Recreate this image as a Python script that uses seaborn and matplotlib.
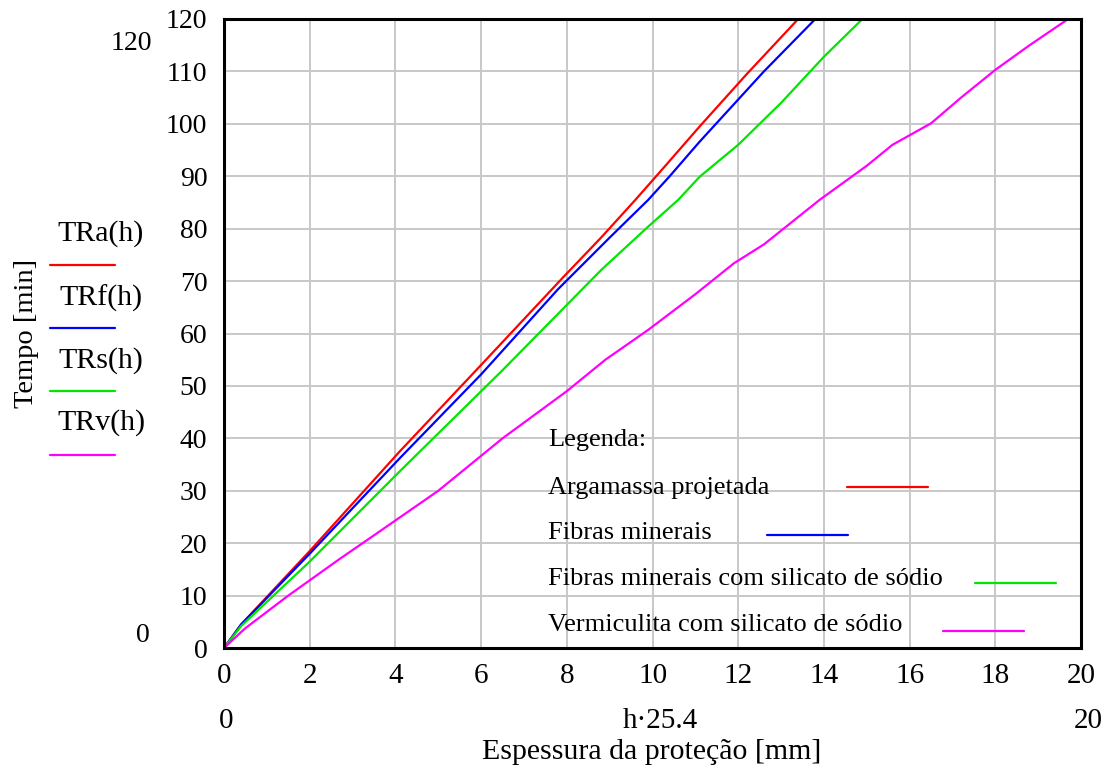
import matplotlib
matplotlib.use("Agg")
import matplotlib.pyplot as plt
import pandas as pd
import seaborn as sns

# espessura h [pol] e tempo de resistencia [min]
h_a = [0.0, 0.4, 2.0, 4.1, 6.0, 7.9, 8.8, 9.6, 10.3, 11.1, 12.2, 13.4]
t_a = [0.0, 4.5, 18.5, 37.5, 54.0, 70.6, 78.3, 85.5, 92.0, 99.5, 109.5, 120.0]

h_f = [0.0, 0.4, 2.0, 4.1, 6.0, 7.8, 9.0, 9.9, 10.4, 11.1, 12.6, 13.8]
t_f = [0.0, 4.5, 18.0, 36.2, 52.2, 68.5, 78.3, 85.5, 90.0, 96.6, 110.0, 120.0]

h_s = [0.0, 0.4, 2.0, 4.1, 6.5, 8.8, 9.9, 10.6, 11.1, 12.0, 13.0, 14.0, 14.9]
t_s = [0.0, 4.2, 16.5, 33.7, 53.0, 72.1, 80.4, 85.5, 89.9, 96.0, 104.0, 112.8, 120.0]

h_v = [0.0, 0.5, 1.5, 2.7, 3.5, 5.0, 6.5, 7.4, 8.0, 8.9, 9.9, 11.0, 11.9, 12.6, 13.9, 15.0,
       15.6, 16.5, 17.2, 18.0, 18.8, 19.7]
t_v = [0.0, 3.8, 10.0, 17.0, 21.5, 30.0, 40.0, 45.4, 49.0, 55.0, 60.7, 67.5, 73.4, 77.0, 85.5, 92.0,
       96.0, 100.1, 105.0, 110.3, 115.0, 120.0]

series = ["TRa(h)", "TRf(h)", "TRs(h)", "TRv(h)"]
descricoes = ["Argamassa projetada", "Fibras minerais",
              "Fibras minerais com silicato de sódio", "Vermiculita com silicato de sódio"]
cores = ["#ff0000", "#0000ff", "#00e600", "#ff00ff"]

frames = []
for nome, hh, tt in zip(series, [h_a, h_f, h_s, h_v], [t_a, t_f, t_s, t_v]):
    frames.append(pd.DataFrame({"h": hh, "t": tt, "serie": nome}))
df = pd.concat(frames, ignore_index=True)

sns.set_theme(style="whitegrid")
plt.rcParams.update({
    "font.family": ["Liberation Serif", "DejaVu Serif"],
    "font.size": 19,
    "text.color": "black",
})

fig = plt.figure(figsize=(11.04, 7.69), dpi=100)
ax = fig.add_axes([0.2029, 0.1573, 0.7763, 0.818])

for nome, cor in zip(series, cores):
    sub = df[df["serie"] == nome]
    sns.lineplot(data=sub, x="h", y="t", color=cor, linewidth=1.6, ax=ax,
                 estimator=None, sort=False, legend=False)

ax.set_xlim(0, 20)
ax.set_ylim(0, 120)
ax.set_xticks(range(0, 21, 2))
ax.set_yticks(range(0, 121, 10))
ax.grid(True, color="#c8c8c8", linewidth=1.4)
for s in ax.spines.values():
    s.set_color("black")
    s.set_linewidth(2.2)
ax.tick_params(axis="both", length=0, colors="black")
ax.tick_params(axis="y", labelsize=20, pad=12)
ax.tick_params(axis="x", labelsize=21, pad=11)
ax.set_xlabel("")
ax.set_ylabel("")

# rotulos estilo Mathcad
fig.text(131 / 1104, 1 - 44 / 769, "120", ha="center", va="center", fontsize=20)
fig.text(143 / 1104, 1 - 636 / 769, "0", ha="center", va="center", fontsize=20)
fig.text(226 / 1104, 1 - 721 / 769, "0", ha="center", va="center", fontsize=21)
fig.text(660 / 1104, 1 - 721 / 769, "h·25.4", ha="center", va="center", fontsize=21)
fig.text(1088 / 1104, 1 - 721 / 769, "20", ha="center", va="center", fontsize=21)
fig.text(652 / 1104, 1 - 752 / 769, "Espessura da proteção [mm]", ha="center", va="center", fontsize=21.5)
fig.text(27 / 1104, 1 - 333 / 769, "Tempo [min]", ha="center", va="center", rotation=90, fontsize=20.5)

ys_lbl = [234, 298, 361, 423]
ys_lin = [265, 328, 391, 455]
for nome, cor, yl, yn in zip(series, cores, ys_lbl, ys_lin):
    fig.text(101 / 1104, 1 - yl / 769, nome, ha="center", va="center", fontsize=21.5)
    fig.add_artist(plt.Line2D([50 / 1104, 115 / 1104], [1 - yn / 769, 1 - yn / 769],
                              color=cor, linewidth=1.6, transform=fig.transFigure))

# legenda interna
fig.text(548 / 1104, 1 - 440 / 769, "Legenda:", ha="left", va="center", fontsize=19)
leg_y = [488, 533, 579, 625]
leg_line = [(847, 928, 487), (767, 848, 535), (975, 1056, 583), (943, 1024, 631)]
for txt, cor, yl, (x0, x1, yn) in zip(descricoes, cores, leg_y, leg_line):
    fig.text(548 / 1104, 1 - yl / 769, txt, ha="left", va="center", fontsize=19)
    fig.add_artist(plt.Line2D([x0 / 1104, x1 / 1104], [1 - yn / 769, 1 - yn / 769],
                              color=cor, linewidth=1.6, transform=fig.transFigure))

fig.savefig("out.png", dpi=100)
